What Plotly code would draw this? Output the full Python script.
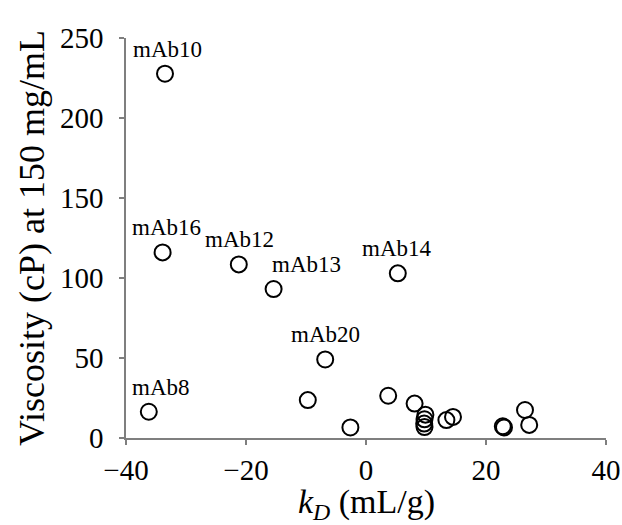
import plotly.graph_objects as go

# k_D (mL/g) and viscosity (cP) at 150 mg/mL
kd = [-33.5, -33.9, -21.2, -15.4, 5.3, -6.8, -36.2,
      -9.7, -2.6, 3.7, 8.1, 9.9, 9.75, 9.7, 9.75,
      13.4, 14.5, 22.8, 23.0, 26.5, 27.2]
visc = [227.7, 116.0, 108.5, 93.1, 102.9, 49.1, 16.4,
        23.7, 6.6, 26.4, 21.5, 14.6, 11.7, 9.0, 6.8,
        11.2, 13.2, 7.3, 6.6, 17.5, 8.2]
names = ["mAb10", "mAb16", "mAb12", "mAb13", "mAb14", "mAb20", "mAb8",
         "", "", "", "", "", "", "", "", "", "", "", "", "", ""]

x_ticks = [-40, -20, 0, 20, 40]
y_ticks = [0, 50, 100, 150, 200, 250]

# label horizontal nudges (pixels)
label_xshift = {"mAb10": 2, "mAb16": 4, "mAb12": 1, "mAb13": 33,
                "mAb14": -1, "mAb20": 0, "mAb8": 12}

FONT = "Liberation Serif"

fig = go.Figure()
fig.add_trace(go.Scatter(
    x=kd, y=visc, mode="markers",
    marker=dict(symbol="circle-open", size=16, color="black",
                line=dict(color="black", width=2)),
    hoverinfo="skip", showlegend=False,
))

for xv, yv, nm in zip(kd, visc, names):
    if nm:
        fig.add_annotation(x=xv, y=yv, text=nm, showarrow=False,
                           xanchor="center", yanchor="bottom",
                           xshift=label_xshift.get(nm, 0), yshift=10,
                           font=dict(family=FONT, size=23, color="black"))

# x-axis title placed below the tick labels
fig.add_annotation(x=0.5, y=0, xref="paper", yref="paper",
                   text="<i>k</i><sub><i>D</i></sub> (mL/g)", showarrow=False,
                   xanchor="center", yanchor="middle", yshift=-66,
                   font=dict(family=FONT, size=34, color="black"))

axis_common = dict(showgrid=False, zeroline=False, showline=True,
                   linecolor="#7f7f7f", linewidth=1.5,
                   ticks="outside", ticklen=5, tickwidth=1.5,
                   tickcolor="#7f7f7f", automargin=False,
                   tickfont=dict(family=FONT, size=29, color="black"))

fig.update_xaxes(range=[-40, 40], tickvals=x_ticks,
                 ticklabelstandoff=0,
                 **axis_common)
fig.update_yaxes(range=[0, 250], tickvals=y_ticks,
                 title=dict(text="Viscosity (cP) at 150 mg/mL",
                            font=dict(family=FONT, size=36, color="black"),
                            standoff=4),
                 ticklabelstandoff=10,
                 **axis_common)

fig.update_layout(width=622, height=525,
                  margin=dict(l=126, r=16, t=38, b=87),
                  plot_bgcolor="white", paper_bgcolor="white")

fig.write_html("out.html")
